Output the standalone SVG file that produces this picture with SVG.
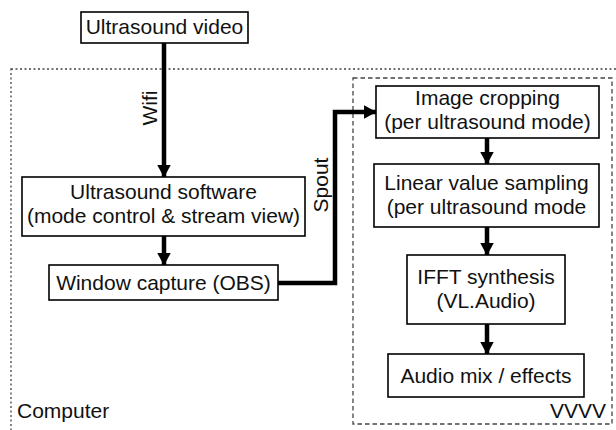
<svg xmlns="http://www.w3.org/2000/svg" width="616" height="430" viewBox="0 0 616 430">
  <style>
    .box { fill: #ffffff; stroke: #000000; stroke-width: 1.6; }
    .lbl { font-family: "Liberation Sans", Arial, sans-serif; font-size: 21px; fill: #111111; text-anchor: middle; }
    .edge { fill: none; stroke: #000000; stroke-width: 4.5; }
    .computer { fill: none; stroke: #444444; stroke-width: 1.3; stroke-dasharray: 2 2.5; }
    .vvvv { fill: none; stroke: #444444; stroke-width: 1.3; stroke-dasharray: 4.5 3; }
  </style>
  <defs>
    <marker id="head" markerUnits="userSpaceOnUse" viewBox="0 0 13 14" refX="12.5" refY="7" markerWidth="13" markerHeight="14" orient="auto">
      <path d="M0,0 L13,7 L0,14 Z" fill="#000000"/>
    </marker>
  </defs>
  <rect width="616" height="430" fill="#ffffff"/>

  <!-- containers -->
  <g id="computer">
    <rect class="computer" x="11" y="69" width="620" height="400"/>
    <text class="lbl" x="17" y="418" style="text-anchor:start">Computer</text>
  </g>
  <g id="vvvv">
    <rect class="vvvv" x="353" y="78" width="259" height="346"/>
    <text class="lbl" x="606" y="418" style="text-anchor:end">VVVV</text>
  </g>

  <!-- connectors -->
  <g id="connectors">
    <line class="edge" x1="164" y1="43" x2="164" y2="177" marker-end="url(#head)"/>
    <line class="edge" x1="164" y1="236" x2="164" y2="265" marker-end="url(#head)"/>
    <path class="edge" d="M278,283 H335 V112 H376" marker-end="url(#head)"/>
    <line class="edge" x1="487" y1="138" x2="487" y2="164" marker-end="url(#head)"/>
    <line class="edge" x1="487" y1="227" x2="487" y2="255" marker-end="url(#head)"/>
    <line class="edge" x1="487" y1="324" x2="487" y2="354" marker-end="url(#head)"/>
    <text class="lbl" transform="translate(157,108) rotate(-90)">Wifi</text>
    <text class="lbl" transform="translate(328,185) rotate(-90)">Spout</text>
  </g>

  <!-- nodes -->
  <g id="ultrasound-video">
    <rect class="box" x="81" y="12" width="167" height="31"/>
    <text class="lbl" x="164.5" y="34">Ultrasound video</text>
  </g>
  <g id="ultrasound-software">
    <rect class="box" x="22" y="177" width="283" height="59"/>
    <text class="lbl" x="163.5" y="199">Ultrasound software</text>
    <text class="lbl" x="163.5" y="223">(mode control &amp; stream view)</text>
  </g>
  <g id="window-capture">
    <rect class="box" x="49" y="265" width="229" height="35"/>
    <text class="lbl" x="163.5" y="290">Window capture (OBS)</text>
  </g>
  <g id="image-cropping">
    <rect class="box" x="376" y="86" width="223" height="52"/>
    <text class="lbl" x="487.5" y="105">Image cropping</text>
    <text class="lbl" x="487.5" y="129">(per ultrasound mode)</text>
  </g>
  <g id="linear-sampling">
    <rect class="box" x="374" y="164" width="225" height="63"/>
    <text class="lbl" x="486.5" y="190">Linear value sampling</text>
    <text class="lbl" x="486.5" y="214">(per ultrasound mode</text>
  </g>
  <g id="ifft-synthesis">
    <rect class="box" x="407" y="255" width="158" height="69"/>
    <text class="lbl" x="486" y="284">IFFT synthesis</text>
    <text class="lbl" x="486" y="308">(VL.Audio)</text>
  </g>
  <g id="audio-mix">
    <rect class="box" x="388" y="354" width="196" height="43"/>
    <text class="lbl" x="486" y="383">Audio mix / effects</text>
  </g>
</svg>
